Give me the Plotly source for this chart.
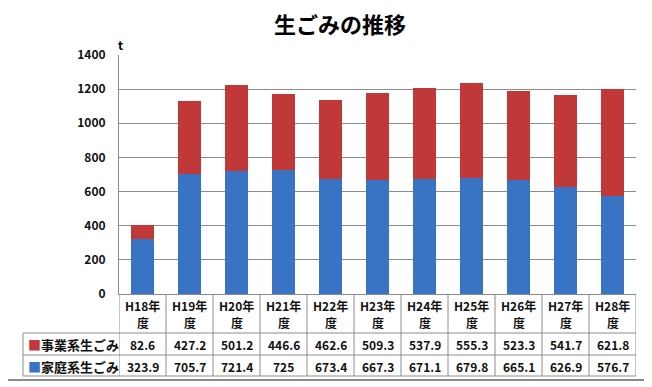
import plotly.graph_objects as go

categories = ["H18年度", "H19年度", "H20年度", "H21年度", "H22年度", "H23年度",
              "H24年度", "H25年度", "H26年度", "H27年度", "H28年度"]
business = [82.6, 427.2, 501.2, 446.6, 462.6, 509.3, 537.9, 555.3, 523.3, 541.7, 621.8]
household = [323.9, 705.7, 721.4, 725, 673.4, 667.3, 671.1, 679.8, 665.1, 626.9, 576.7]
business_name = "事業系生ごみ"
household_name = "家庭系生ごみ"
y_ticks = [0, 200, 400, 600, 800, 1000, 1200, 1400]

# page body has an 8px margin; lay out in window pixels and shift
OFF = 8
W, H = 652 - OFF, 387 - OFF
PL, PR, PT, PB = 119, 636, 55, 294   # plot area in window pixels
ML, MT = PL - OFF, PT - OFF
MR = W - (PR - OFF)
MB = H - (PB - OFF)
PW, PH = PR - PL, PB - PT

RED = "#c03838"
BLUE = "#3873c4"
GRID = "#8c8c8c"
FONT = "Noto Sans CJK JP"


def px_x(px):
    return (px - PL) / PW


def px_y(py):
    return (PB - py) / PH


fig = go.Figure()
fig.add_trace(go.Bar(x=categories, y=household, name=household_name,
                     marker=dict(color=BLUE, line=dict(width=0))))
fig.add_trace(go.Bar(x=categories, y=business, name=business_name,
                     marker=dict(color=RED, line=dict(width=0))))

shapes = []
annotations = []

# table horizontal lines
for py in [333, 355, 376]:
    shapes.append(dict(type="line", xref="paper", yref="paper",
                       x0=px_x(23), x1=1, y0=px_y(py), y1=px_y(py),
                       line=dict(color=GRID, width=1)))
# label column left border
shapes.append(dict(type="line", xref="paper", yref="paper",
                   x0=px_x(23), x1=px_x(23), y0=px_y(333), y1=px_y(376),
                   line=dict(color=GRID, width=1)))
# vertical lines between categories
n = len(categories)
for i in range(n + 1):
    shapes.append(dict(type="line", xref="x", yref="paper",
                       x0=i - 0.5, x1=i - 0.5, y0=px_y(294), y1=px_y(376),
                       line=dict(color=GRID, width=1)))
# outer border (right and bottom)
shapes.append(dict(type="line", xref="paper", yref="paper",
                   x0=px_x(649), x1=px_x(649), y0=px_y(OFF), y1=px_y(380),
                   line=dict(color="#8a8a8a", width=2)))
shapes.append(dict(type="line", xref="paper", yref="paper",
                   x0=px_x(OFF), x1=px_x(649), y0=px_y(380), y1=px_y(380),
                   line=dict(color="#8a8a8a", width=2)))

# header cells and values
hdr_font = dict(family=FONT, size=12, color="#111", weight="bold")
val_font = dict(family=FONT, size=12, color="#111", weight="bold")
for i, c in enumerate(categories):
    annotations.append(dict(x=c, xref="x", y=px_y(305), yref="paper",
                            text=c[:-1], showarrow=False, font=hdr_font,
                            xanchor="center", yanchor="middle"))
    annotations.append(dict(x=c, xref="x", y=px_y(322), yref="paper",
                            text=c[-1], showarrow=False, font=hdr_font,
                            xanchor="center", yanchor="middle"))
    annotations.append(dict(x=c, xref="x", y=px_y(344), yref="paper",
                            text=f"{business[i]:g}", showarrow=False, font=val_font,
                            xanchor="center", yanchor="middle"))
    annotations.append(dict(x=c, xref="x", y=px_y(366), yref="paper",
                            text=f"{household[i]:g}", showarrow=False, font=val_font,
                            xanchor="center", yanchor="middle"))

# row labels
for name, col, py in [(business_name, RED, 344), (household_name, BLUE, 366)]:
    annotations.append(dict(x=px_x(26), xref="paper", y=px_y(py), yref="paper",
                            text=f'<span style="color:{col}">■</span>{name}',
                            showarrow=False, xanchor="left", yanchor="middle",
                            font=dict(family=FONT, size=13, color="#111", weight="bold")))

# title
annotations.append(dict(x=px_x(340), xref="paper", y=px_y(23), yref="paper",
                        text="生ごみの推移", showarrow=False, borderpad=0,
                        xanchor="center", yanchor="middle",
                        font=dict(family=FONT, size=22, color="#000", weight="bold")))
# unit
annotations.append(dict(x=px_x(120), xref="paper", y=px_y(44), yref="paper",
                        text="t", showarrow=False, xanchor="center", yanchor="middle",
                        font=dict(family=FONT, size=12, color="#000", weight="bold")))

fig.update_layout(
    width=W, height=H,
    margin=dict(l=ML, r=MR, t=MT, b=MB, autoexpand=False),
    paper_bgcolor="white", plot_bgcolor="white",
    barmode="stack", bargap=0.49,
    showlegend=False,
    shapes=shapes, annotations=annotations,
    font=dict(family=FONT),
)
fig.update_xaxes(showticklabels=False, ticks="", showgrid=False,
                 showline=True, linecolor=GRID, linewidth=1, zeroline=False,
                 range=[-0.5, n - 0.5])
fig.update_yaxes(range=[0, 1400], tickvals=y_ticks, showgrid=True, gridcolor=GRID,
                 gridwidth=1, showline=True, linecolor=GRID, linewidth=1,
                 zeroline=False, ticks="", ticklabelstandoff=10,
                 tickfont=dict(family=FONT, size=12, color="#111", weight="bold"))

fig.write_html("out.html")
